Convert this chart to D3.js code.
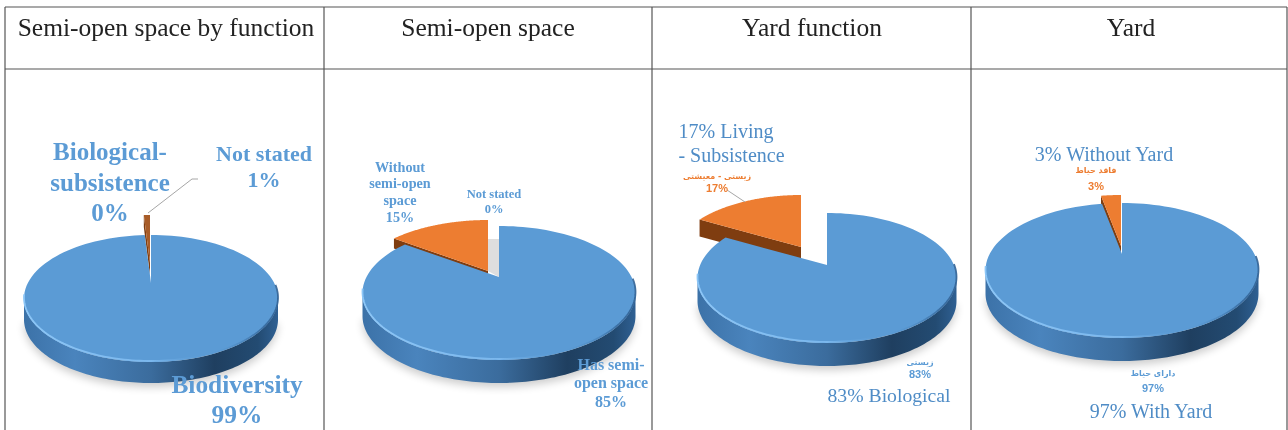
<!DOCTYPE html>
<html>
<head>
<meta charset="utf-8">
<title>Semi-open space and yard pies</title>
<script src="https://d3js.org/d3.v7.min.js"></script>
<style>
    html, body { margin: 0; padding: 0; background: #fff; overflow: hidden; }
    text { font-family: "Liberation Serif", serif; }
    .fa { font-family: "DejaVu Sans", sans-serif; }
    .pct { font-family: "Liberation Sans", sans-serif; }
</style>
</head>
<body>
<div id="chart"></div>
<script>
// data
const headers = ["Semi-open space by function", "Semi-open space", "Yard function", "Yard"];
const semiFunctionNames = ["Biodiversity", "Not stated", "Biological-subsistence"];
const semiFunctionValues = [99, 1, 0];
const semiOpenNames = ["Has semi-open space", "Without semi-open space", "Not stated"];
const semiOpenValues = [85, 15, 0];
const yardFunctionNames = ["Biological", "Living - Subsistence"];
const yardFunctionValues = [83, 17];
const yardNames = ["With Yard", "Without Yard"];
const yardValues = [97, 3];

const blue = "#5b9bd5", orange = "#ed7d31", brown = "#7f3d10", labelBlue = "#4f8cc6";
const W = 1288, H = 430;

const svg = d3.select("#chart").append("svg").attr("width", W).attr("height", H);
const defs = svg.append("defs");

function gradient(id, stops) {
    const g = defs.append("linearGradient").attr("id", id);
    stops.forEach(s => g.append("stop").attr("offset", s[0]).attr("stop-color", s[1]).attr("stop-opacity", s[2] === undefined ? 1 : s[2]));
}
gradient("wall", [[0, "#3c72a8"], [0.2, "#4a84bd"], [0.5, "#3b6c9d"], [0.75, "#1f3f60"], [0.92, "#234b72"], [1, "#2f6093"]]);
gradient("rim", [[0, "#8cc6f7"], [0.5, "#7fbbf0", 0.9], [0.72, blue, 0], [0.93, "#2f6093", 0.7], [1, "#2f6093", 0.9]]);

defs.append("filter").attr("id", "soft").attr("x", "-20%").attr("y", "-50%").attr("width", "140%").attr("height", "200%")
    .append("feGaussianBlur").attr("stdDeviation", 4);
defs.append("filter").attr("id", "scan")
    .append("feGaussianBlur").attr("stdDeviation", 0.35);

// table grid
const colX = [5, 324, 652, 971, 1287];
const topY = 7, headY = 69;
const grid = svg.append("g").attr("stroke", "#555").attr("stroke-width", 1.2);
colX.forEach(x => grid.append("line").attr("x1", x).attr("x2", x).attr("y1", topY).attr("y2", H));
[topY, headY].forEach(y => grid.append("line").attr("x1", colX[0]).attr("x2", colX[4]).attr("y1", y).attr("y2", y));

const headCx = [166, 488, 812, 1131];
svg.append("g").attr("filter", "url(#scan)").selectAll("text").data(headers).join("text")
    .attr("x", (d, i) => headCx[i]).attr("y", 36)
    .attr("text-anchor", "middle").attr("font-size", 25.5).attr("fill", "#222")
    .text(d => d);

// pie layouts: fitted ellipse of the top face plus how far the small slice is pulled out
const panels = [
    { names: semiFunctionNames, values: semiFunctionValues, cx: 151, rx: 127, top: 235, apex: 283, bottom: 362, depth: 21, pull: [-1, -20], sliceDepth: 12, sliceFill: "#a85c28" },
    { names: semiOpenNames, values: semiOpenValues, cx: 499, rx: 136.5, top: 226, apex: 277, bottom: 360, depth: 23, pull: [-11, -6], sliceDepth: 10, gapShade: true },
    { names: yardFunctionNames, values: yardFunctionValues, cx: 827, rx: 129.5, top: 213, apex: 265, bottom: 343, depth: 23, pull: [-26, -18], sliceDepth: 17 },
    { names: yardNames, values: yardValues, cx: 1122, rx: 136.5, top: 203, apex: 254, bottom: 338, depth: 23, pull: [-1, -8], sliceDepth: 12 }
];

const pie = d3.pie().sort(null);
const line = d3.line();

function makeProjection(p) {
    const far = p.apex - p.top, near = p.bottom - p.apex;
    const k = (near - far) / (near + far);
    const b = far * (1 + k);
    const a = p.rx * Math.sqrt(1 - k * k);
    const fn = (angle, r, dx = 0, dy = 0) => {
        const u = r * Math.sin(angle), v = r * Math.cos(angle), w = 1 + k * v;
        return [p.cx + a * u / w + dx, p.apex - b * v / w + dy];
    };
    fn.k = k;
    return fn;
}

function rimPoints(proj, a0, a1, dx, dy) {
    const t = d3.scaleLinear().domain([0, 120]).range([a0, a1]);
    return d3.range(121).map(i => proj(t(i), 1, dx, dy));
}

panels.forEach(p => {
    const proj = makeProjection(p);
    const arcs = pie(p.values);
    const g = svg.append("g");

    // front silhouette angle, where the rim starts to face the viewer
    const sil = Math.acos(-proj.k);

    // soft ground shadow, front part only so the cut stays white
    g.append("path")
        .attr("d", line(rimPoints(proj, sil, 2 * Math.PI - sil, 0, p.depth + 4)) + "Z")
        .attr("fill", "#000").attr("opacity", 0.2).attr("filter", "url(#soft)");

    arcs.slice(1).filter(d => d.endAngle > d.startAngle).forEach(d => {
        const [dx, dy] = p.pull;
        const edge = [proj(d.startAngle, 1, dx, dy), proj(0, 0, dx, dy)];
        g.append("path")
            .attr("d", line([edge[0], edge[1], [edge[1][0], edge[1][1] + p.sliceDepth], [edge[0][0], edge[0][1] + p.sliceDepth]]) + "Z")
            .attr("fill", brown);
        g.append("path")
            .attr("d", line([proj(0, 0, dx, dy), ...rimPoints(proj, d.startAngle, d.endAngle, dx, dy)]) + "Z")
            .attr("fill", p.sliceFill || orange);
    });

    const main = arcs[0];

    // outer wall of the big slice
    const wallTop = rimPoints(proj, sil, 2 * Math.PI - sil, 0, 0);
    const wallBottom = wallTop.map(q => [q[0], q[1] + p.depth]).reverse();
    g.append("path").attr("d", line(wallTop.concat(wallBottom)) + "Z").attr("fill", "url(#wall)");

    if (p.gapShade) {
        const [dx, dy] = p.pull;
        g.append("path")
            .attr("d", line([proj(0, 0), proj(0, 0.7), proj(0, 0.7, dx, 0), proj(0, 0, dx, dy)]) + "Z")
            .attr("fill", "#dedede");
    }

    // top face
    g.append("path")
        .attr("d", line([proj(0, 0), ...rimPoints(proj, main.startAngle, main.endAngle, 0, 0)]) + "Z")
        .attr("fill", blue);

    // bevel highlight along the front rim
    g.append("path")
        .attr("d", line(rimPoints(proj, sil - 0.2, 2 * Math.PI - sil + 0.05, 0, -1).reverse()))
        .attr("fill", "none").attr("stroke", "url(#rim)").attr("stroke-width", 1.8);
});

// leader lines
const leaders = [
    [[148, 213], [192, 179], [198, 179]],
    [[727, 190], [745, 202]]
];
svg.append("g").selectAll("path").data(leaders).join("path")
    .attr("d", d => line(d)).attr("fill", "none").attr("stroke", "#a6a6a6").attr("stroke-width", 1);

// labels: text lines with position and style
const labelRows = [
    ["Biological-", 110, 160, 25, "bold", blue],
    ["subsistence", 110, 191, 25, "bold", blue],
    ["0%", 110, 221, 25, "bold", blue],
    ["Not stated", 264, 161, 22, "bold", blue],
    ["1%", 264, 187, 22, "bold", blue],
    ["Biodiversity", 237, 393, 25.4, "bold", blue],
    ["99%", 237, 423, 25.4, "bold", blue],
    ["Without", 400, 172, 14.2, "bold", blue],
    ["semi-open", 400, 188, 14.2, "bold", blue],
    ["space", 400, 205, 14.2, "bold", blue],
    ["15%", 400, 222, 14.2, "bold", blue],
    ["Not stated", 494, 198, 12.5, "bold", blue],
    ["0%", 494, 213, 12.5, "bold", blue],
    ["Has semi-", 611, 370, 16, "bold", blue],
    ["open space", 611, 388, 16, "bold", blue],
    ["85%", 611, 407, 16, "bold", blue],
    ["17% Living", 726, 138, 20, "normal", labelBlue],
    ["- Subsistence", 731.5, 162, 20, "normal", labelBlue],
    ["83% Biological", 889, 402, 19.7, "normal", labelBlue],
    ["3% Without Yard", 1104, 161, 20, "normal", labelBlue],
    ["97% With Yard", 1151, 418, 20, "normal", labelBlue]
];
const faRows = [
    ["زیستی - معیشتی", 717, 179, 8, orange, "fa"],
    ["17%", 717, 192, 11, orange, "pct"],
    ["زیستی", 920, 365, 8, blue, "fa"],
    ["83%", 920, 378, 11, blue, "pct"],
    ["فاقد حیاط", 1096, 173, 8, orange, "fa"],
    ["3%", 1096, 190, 11, orange, "pct"],
    ["دارای حیاط", 1153, 376, 8, blue, "fa"],
    ["97%", 1153, 392, 11, blue, "pct"]
];
const labels = svg.append("g").attr("filter", "url(#scan)");
labels.selectAll("text.en").data(labelRows).join("text").attr("class", "en")
    .attr("x", d => d[1]).attr("y", d => d[2]).attr("font-size", d => d[3])
    .attr("font-weight", d => d[4]).attr("fill", d => d[5]).attr("text-anchor", "middle")
    .text(d => d[0]);
labels.selectAll("text.small").data(faRows).join("text").attr("class", d => "small " + d[5])
    .attr("x", d => d[1]).attr("y", d => d[2]).attr("font-size", d => d[3])
    .attr("font-weight", "bold").attr("fill", d => d[4]).attr("text-anchor", "middle")
    .text(d => d[0]);
</script>
</body>
</html>
